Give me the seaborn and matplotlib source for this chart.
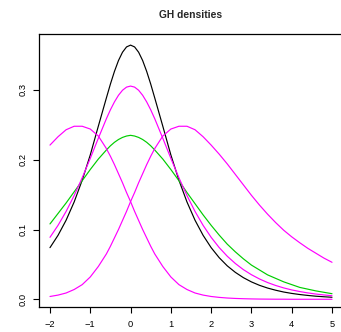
import numpy as np
import pandas as pd
import matplotlib
matplotlib.use("Agg")
import matplotlib.pyplot as plt
import seaborn as sns

# shared x grid
x = [-2.0, -1.8, -1.6, -1.4, -1.2, -1.0, -0.8, -0.6, -0.5, -0.4, -0.3, -0.2, -0.1, 0.0,
     0.1, 0.2, 0.3, 0.4, 0.5, 0.6, 0.8, 1.0, 1.2, 1.4, 1.6, 1.8, 2.0, 2.2, 2.4, 2.6,
     2.8, 3.0, 3.2, 3.4, 3.6, 3.8, 4.0, 4.2, 4.4, 4.6, 4.8, 5.0]

dens_black = [0.0740, 0.0917, 0.1133, 0.1395, 0.1707, 0.2069, 0.2481, 0.2886, 0.3085, 0.3266,
              0.3422, 0.3541, 0.3617, 0.3643, 0.3617, 0.3541, 0.3422, 0.3266, 0.3085, 0.2886,
              0.2481, 0.2069, 0.1707, 0.1395, 0.1133, 0.0917, 0.0740, 0.0596, 0.0479, 0.0386,
              0.0310, 0.0249, 0.0200, 0.0161, 0.0130, 0.0104, 0.0084, 0.0068, 0.0055, 0.0044,
              0.0036, 0.0029]

dens_green = [0.108, 0.123, 0.138, 0.154, 0.170, 0.186, 0.201, 0.214, 0.220, 0.225,
              0.229, 0.232, 0.234, 0.235, 0.234, 0.232, 0.229, 0.225, 0.220, 0.214,
              0.201, 0.186, 0.170, 0.153, 0.137, 0.121, 0.106, 0.092, 0.079, 0.068,
              0.058, 0.049, 0.042, 0.035, 0.030, 0.025, 0.021, 0.017, 0.0145, 0.012,
              0.010, 0.008]

dens_sym = [0.0888, 0.1060, 0.1259, 0.1487, 0.1742, 0.2020, 0.2308, 0.2588, 0.2716, 0.2829,
            0.2924, 0.2996, 0.3041, 0.3056, 0.3041, 0.2996, 0.2924, 0.2829, 0.2716, 0.2588,
            0.2308, 0.2020, 0.1742, 0.1487, 0.1259, 0.1060, 0.0888, 0.0741, 0.0617, 0.0513,
            0.0425, 0.0352, 0.0291, 0.0240, 0.0198, 0.0163, 0.0134, 0.0111, 0.0091, 0.0075,
            0.0062, 0.0051]

dens_left = [0.221, 0.233, 0.243, 0.248, 0.248, 0.244, 0.234, 0.216, 0.205, 0.193,
             0.180, 0.167, 0.153, 0.140, 0.126, 0.113, 0.100, 0.088, 0.076, 0.065,
             0.047, 0.032, 0.021, 0.014, 0.009, 0.006, 0.004, 0.0027, 0.0018, 0.0012,
             0.0008, 0.0005, 0.0003, 0.0002, 0.0001, 0.0001, 0.0, 0.0, 0.0, 0.0,
             0.0, 0.0]

dens_right = [0.004, 0.006, 0.009, 0.014, 0.021, 0.032, 0.047, 0.065, 0.076, 0.088,
              0.100, 0.113, 0.126, 0.140, 0.153, 0.167, 0.180, 0.193, 0.205, 0.216,
              0.234, 0.244, 0.248, 0.248, 0.243, 0.233, 0.221, 0.208, 0.194, 0.179,
              0.164, 0.149, 0.135, 0.122, 0.110, 0.099, 0.0895, 0.081, 0.073, 0.066,
              0.059, 0.053]

series = ["black", "green", "sym", "left", "right"]
colors = {"black": "#000000", "green": "#00CD00", "sym": "#FF00FF",
          "left": "#FF00FF", "right": "#FF00FF"}
values = [dens_black, dens_green, dens_sym, dens_left, dens_right]

df = pd.concat([pd.DataFrame({"x": x, "y": v, "curve": s}) for s, v in zip(series, values)],
               ignore_index=True)

sns.set_style("white")
plt.rcParams["font.family"] = ["Liberation Sans", "DejaVu Sans"]

W, H = 341, 332
fig = plt.figure(figsize=(W / 100, H / 100), dpi=100)
left_px, right_px, top_px, bottom_px = 38.7, 343.3, 34.3, 307.3
ax = fig.add_axes([left_px / W, 1 - bottom_px / H, (right_px - left_px) / W,
                   (bottom_px - top_px) / H])

sns.lineplot(data=df, x="x", y="y", hue="curve", palette=colors, units="curve",
             estimator=None, sort=False, linewidth=0.85, legend=False, ax=ax)

ax.set_xlim(-2.28, 5.28)
ax.set_ylim(-0.0115, 0.3798)
ax.set_xticks([-2, -1, 0, 1, 2, 3, 4, 5])
ax.set_yticks([0.0, 0.1, 0.2, 0.3])
ax.set_yticklabels(["0.0", "0.1", "0.2", "0.3"], rotation=90, va="center")
ax.set_xlabel("")
ax.set_ylabel("")
for sp in ax.spines.values():
    sp.set_color("#000000")
    sp.set_linewidth(0.9)
ax.tick_params(axis="both", direction="out", length=4.0, width=0.8, colors="#000000",
               labelsize=6.7)
ax.tick_params(axis="x", bottom=True, pad=5.0)
ax.tick_params(axis="y", left=True, pad=4.0)
ax.set_title("GH densities", fontsize=7.4, fontweight="bold", pad=11.5)

fig.savefig("out.png", dpi=100)
